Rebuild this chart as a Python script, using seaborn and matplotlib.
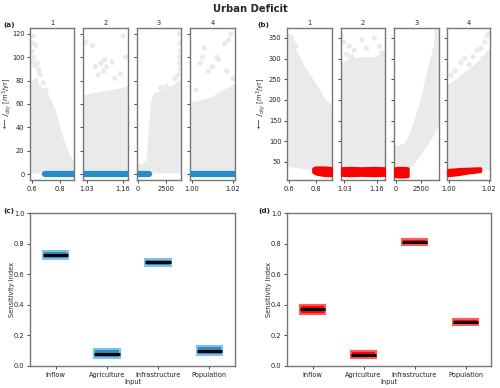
import numpy as np
import pandas as pd
import matplotlib
matplotlib.use("Agg")
import matplotlib.pyplot as plt
import seaborn as sns

sns.set_style("white")
plt.rcParams['font.family'] = ['DejaVu Sans']

# ---------------- data ----------------
panel_titles = ["1", "2", "3", "4"]

# (a) cloud envelopes
a1_x = [0.586, 0.62, 0.66, 0.70, 0.75, 0.80, 0.85, 0.90]
a1_hi = [80, 78, 73, 68, 55, 33, 17, 6]
a1_lo = [3, 3, 2, 1, 0.5, 0.5, 0.5, 0.5]
a1_ox = [0.607, 0.61, 0.615, 0.62, 0.64, 0.65, 0.66, 0.63, 0.68, 0.70, 0.60, 0.605, 0.625, 0.645]
a1_oy = [118, 112, 100, 93, 95, 88, 85, 80, 78, 72, 105, 96, 110, 90]

a2_x = [1.016, 1.05, 1.10, 1.15, 1.178]
a2_hi = [66, 68, 70, 72, 74]
a2_lo = [0, 0, 0, 0, 0]
a2_ox = [1.02, 1.025, 1.05, 1.06, 1.08, 1.09, 1.10, 1.12, 1.095, 1.07, 1.16, 1.17, 1.13, 1.15]
a2_oy = [112, 113, 110, 92, 95, 88, 92, 96, 98, 85, 118, 100, 82, 86]

a3_x = [-90, 0, 500, 900, 1100, 1300, 1500, 2000, 2500, 3000, 3500, 3840]
a3_hi = [6, 7, 8, 12, 35, 62, 68, 70, 72, 74, 77, 80]
a3_lo = [0, 0, 0, 1, 2, 3, 3, 3, 3, 3, 3, 3]
a3_ox = [3700, 3750, 3800, 3700, 3750, 3800, 3600, 2500, 2000, 3300]
a3_oy = [120, 112, 105, 100, 95, 90, 85, 75, 74, 82]

a4_x = [0.999, 1.005, 1.01, 1.015, 1.021]
a4_hi = [60, 62, 65, 70, 76]
a4_lo = [0, 0, 0, 0, 0]
a4_ox = [1.002, 1.004, 1.005, 1.006, 1.008, 1.010, 1.012, 1.013, 1.016, 1.018, 1.019, 1.017, 1.020]
a4_oy = [72, 95, 100, 108, 88, 92, 100, 98, 112, 115, 120, 88, 82]

# (a) selected (blue) runs at deficit 0: x extent
a_blue_x0 = [0.69, 1.016, -60, 0.999]
a_blue_x1 = [0.90, 1.178, 950, 1.021]
a_xlims = [(0.586, 0.90), (1.0156, 1.178), (-90, 3840), (0.999, 1.021)]
a_xticks = [[0.6, 0.8], [1.03, 1.16], [0, 2500], [1.00, 1.02]]
a_xticklabels = [["0.6", "0.8"], ["1.03", "1.16"], ["0", "2500"], ["1.00", "1.02"]]

# (b) cloud envelopes
b1_x = [0.585, 0.62, 0.66, 0.70, 0.75, 0.80, 0.85, 0.90, 0.918]
b1_hi = [340, 330, 305, 280, 255, 230, 200, 185, 180]
b1_lo = [45, 43, 41, 39, 37, 34, 32, 30, 30]
b1_ox = [0.60, 0.62, 0.61, 0.65, 0.63]
b1_oy = [355, 350, 345, 330, 338]

b2_x = [1.0175, 1.05, 1.10, 1.15, 1.1925]
b2_hi = [285, 295, 300, 300, 310]
b2_lo = [35, 35, 35, 35, 35]
b2_ox = [1.02, 1.03, 1.05, 1.07, 1.10, 1.12, 1.15, 1.17, 1.18, 1.06, 1.04]
b2_oy = [355, 340, 330, 320, 345, 325, 350, 330, 315, 305, 310]

b3_x = [-200, 0, 500, 1000, 1500, 2000, 2500, 3000, 3500, 4000, 4300]
b3_hi = [85, 85, 88, 92, 115, 150, 190, 240, 290, 340, 360]
b3_lo = [30, 30, 30, 32, 45, 60, 78, 95, 115, 140, 160]
b3_ox = [4100, 4150, 4050]
b3_oy = [365, 355, 345]

b4_x = [0.999, 1.005, 1.01, 1.015, 1.0205]
b4_hi = [230, 250, 270, 290, 320]
b4_lo = [35, 35, 35, 35, 35]
b4_ox = [1.001, 1.003, 1.006, 1.008, 1.010, 1.012, 1.014, 1.016, 1.018, 1.019, 1.020, 1.017]
b4_oy = [260, 270, 290, 300, 285, 305, 320, 325, 340, 355, 360, 300]

# (b) selected (red) runs
b1_rx = [0.78, 0.80, 0.85, 0.90, 0.916]
b1_rlo = [26, 22, 19, 18, 18]
b1_rhi = [34, 36, 36, 35, 34]
b2_rx = [1.019, 1.05, 1.10, 1.15, 1.191]
b2_rlo = [19, 18, 19, 18, 19]
b2_rhi = [34, 35, 34, 35, 34]
b3_rx = [-150, 300, 700, 1150]
b3_rlo = [16, 15, 15, 16]
b3_rhi = [34, 35, 35, 34]
b4_rx = [0.9995, 1.005, 1.010, 1.0155]
b4_rlo = [18, 21, 25, 28]
b4_rhi = [30, 32, 33, 34]
b_xlims = [(0.585, 0.918), (1.0175, 1.1925), (-200, 4300), (0.999, 1.0205)]

# sensitivity indices
inputs = ["Inflow", "Agriculture", "Infrastructure", "Population"]
c_low = [0.70, 0.050, 0.655, 0.075]
c_high = [0.75, 0.110, 0.700, 0.130]
c_mean = [0.725, 0.077, 0.677, 0.100]
d_low = [0.340, 0.055, 0.790, 0.265]
d_high = [0.400, 0.100, 0.830, 0.310]
d_mean = [0.370, 0.073, 0.810, 0.285]

# ---------------- figure ----------------
W, H = 500, 388
fig = plt.figure(figsize=(W / 100, H / 100), dpi=100)

def px_axes(x0, x1, y0, y1):
    return fig.add_axes([x0 / W, 1 - y1 / H, (x1 - x0) / W, (y1 - y0) / H])

GRAY = "#eaeaea"
BLUE = "#2b8cc4"
RED = "#ff0000"
SPINE = "#777777"
FS = 4.8

def style(ax):
    for s in ax.spines.values():
        s.set_color(SPINE)
        s.set_linewidth(1.0)
    ax.tick_params(labelsize=FS, length=2.5, width=0.7, color="#444444",
                   labelcolor="#222222", pad=1.5, left=True, bottom=True)

a_cloud = [(a1_x, a1_lo, a1_hi, a1_ox, a1_oy), (a2_x, a2_lo, a2_hi, a2_ox, a2_oy),
           (a3_x, a3_lo, a3_hi, a3_ox, a3_oy), (a4_x, a4_lo, a4_hi, a4_ox, a4_oy)]
b_cloud = [(b1_x, b1_lo, b1_hi, b1_ox, b1_oy), (b2_x, b2_lo, b2_hi, b2_ox, b2_oy),
           (b3_x, b3_lo, b3_hi, b3_ox, b3_oy), (b4_x, b4_lo, b4_hi, b4_ox, b4_oy)]
b_red = [(b1_rx, b1_rlo, b1_rhi), (b2_rx, b2_rlo, b2_rhi),
         (b3_rx, b3_rlo, b3_rhi), (b4_rx, b4_rlo, b4_rhi)]

a_pos = [(30, 74), (83, 128), (137, 181), (190, 235)]
b_pos = [(287, 332), (341, 385), (394, 439), (447, 490)]
TOP, BOT = 28, 180

ylabel_top = r"$\longleftarrow$ $J_{city}$ [$m^3$/yr]"

for i in range(4):
    # ---- (a) ----
    ax = px_axes(a_pos[i][0], a_pos[i][1], TOP, BOT)
    cx, clo, chi, ox, oy = a_cloud[i]
    ax.fill_between(cx, clo, chi, color=GRAY, lw=3, edgecolor=GRAY, zorder=1)
    sns.scatterplot(x=ox, y=oy, ax=ax, color=GRAY, s=14, edgecolor="none", zorder=2)
    ax.plot([a_blue_x0[i], a_blue_x1[i]], [0, 0], color=BLUE, lw=4.5,
            solid_capstyle="round", zorder=3)
    ax.set_xlim(*a_xlims[i])
    ax.set_ylim(-5, 125)
    ax.set_xticks(a_xticks[i])
    ax.set_xticklabels(a_xticklabels[i])
    ax.set_yticks([0, 20, 40, 60, 80, 100, 120])
    ax.set_title(panel_titles[i], fontsize=FS, pad=2)
    style(ax)
    if i == 0:
        ax.set_ylabel(ylabel_top, fontsize=FS)
        ax.yaxis.set_label_coords(-0.36, 0.5)
    else:
        ax.set_yticklabels([])

    # ---- (b) ----
    ax = px_axes(b_pos[i][0], b_pos[i][1], TOP, BOT)
    cx, clo, chi, ox, oy = b_cloud[i]
    ax.fill_between(cx, clo, chi, color=GRAY, lw=3, edgecolor=GRAY, zorder=1)
    sns.scatterplot(x=ox, y=oy, ax=ax, color=GRAY, s=14, edgecolor="none", zorder=2)
    rx, rlo, rhi = b_red[i]
    ax.fill_between(rx, rlo, rhi, color=RED, lw=2.5, edgecolor=RED, zorder=3)
    ax.set_xlim(*b_xlims[i])
    ax.set_ylim(6, 374)
    ax.set_xticks(a_xticks[i])
    ax.set_xticklabels(a_xticklabels[i])
    ax.set_yticks([50, 100, 150, 200, 250, 300, 350])
    ax.set_title(panel_titles[i], fontsize=FS, pad=2)
    style(ax)
    if i == 0:
        ax.set_ylabel(ylabel_top, fontsize=FS)
        ax.yaxis.set_label_coords(-0.42, 0.5)
    else:
        ax.set_yticklabels([])

# ---- (c) and (d) ----
def sens_panel(x0, x1, lows, highs, means, fc, ec):
    ax = px_axes(x0, x1, 213, 366)
    df = pd.DataFrame({"Input": inputs, "low": lows, "high": highs, "mean": means})
    heights = df["high"] - df["low"]
    ax.bar(np.arange(len(inputs)), heights, bottom=df["low"], width=0.5,
           color=fc, edgecolor=ec, linewidth=1.5, zorder=2)
    ax.hlines(df["mean"], np.arange(len(inputs)) - 0.25, np.arange(len(inputs)) + 0.25,
              color="black", lw=2.2, zorder=3)
    ax.set_xlim(-0.5, 3.5)
    ax.set_ylim(0, 1.0)
    ax.set_xticks(np.arange(len(inputs)))
    ax.set_xticklabels(inputs)
    ax.set_yticks([0, 0.2, 0.4, 0.6, 0.8, 1.0])
    ax.set_yticklabels(["0.0", "0.2", "0.4", "0.6", "0.8", "1.0"])
    ax.set_xlabel("Input", fontsize=FS, labelpad=1)
    ax.set_ylabel("Sensitivity Index", fontsize=FS)
    ax.yaxis.set_label_coords(-0.075, 0.5)
    style(ax)
    return ax

sens_panel(30, 235, c_low, c_high, c_mean, BLUE, "#7fc2e6")
sens_panel(287, 491, d_low, d_high, d_mean, RED, "#ff5a5a")

# ---- labels ----
fig.text(250 / W, 1 - 9 / H, "Urban Deficit", ha="center", va="center",
         fontsize=7.2, fontweight="bold")
for lab, x, y in [("(a)", 3, 25), ("(b)", 257, 25), ("(c)", 3, 211), ("(d)", 258, 211)]:
    fig.text(x / W, 1 - y / H, lab, ha="left", va="center", fontsize=5.2, fontweight="bold")

fig.savefig("out.png", dpi=100)
